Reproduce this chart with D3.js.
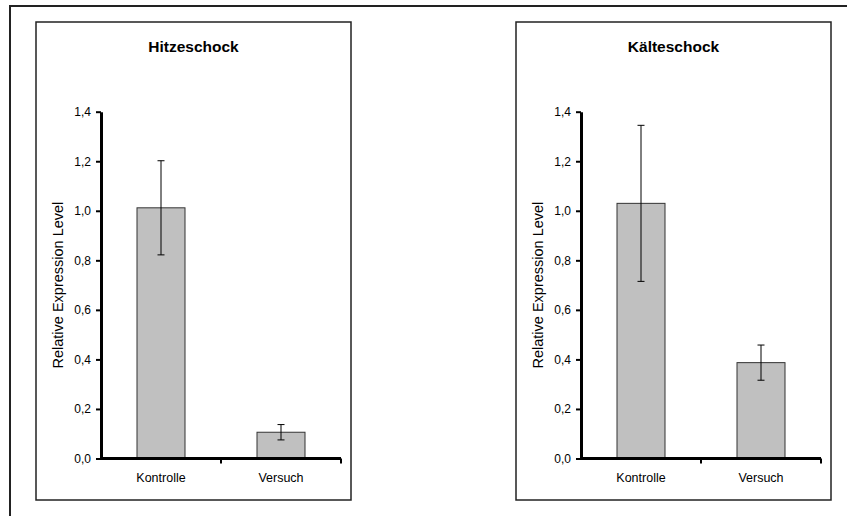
<!DOCTYPE html>
<html lang="de">
<head>
<meta charset="utf-8">
<title>Hitzeschock / Kälteschock</title>
<script src="https://d3js.org/d3.v7.min.js"></script>
<style>
  body { margin: 0; background: #fff; }
  text { font-family: Arial, "Liberation Sans", sans-serif; fill: #000; }
</style>
</head>
<body>
<script>
// data
var categories = ["Kontrolle", "Versuch"];
var titles = ["Hitzeschock", "Kälteschock"];
var heatMeans = [1.012, 0.106];
var heatErrors = [0.19, 0.031];
var coldMeans = [1.03, 0.387];
var coldErrors = [0.315, 0.071];
var yTicks = [0, 0.2, 0.4, 0.6, 0.8, 1.0, 1.2, 1.4];

var panels = [
  { title: titles[0], means: heatMeans, errors: heatErrors, dx: 0 },
  { title: titles[1], means: coldMeans, errors: coldErrors, dx: 480 }
];

var width = 847, height = 516;

var svg = d3.select("body").append("svg")
    .attr("width", width)
    .attr("height", height);

// outer frame (runs off the picture at right and bottom)
svg.append("rect")
    .attr("x", 10).attr("y", 6)
    .attr("width", 900).attr("height", 600)
    .attr("fill", "none")
    .attr("stroke", "#222")
    .attr("stroke-width", 2);

var y = d3.scaleLinear().domain([0, 1.4]).range([458.5, 111.7]);
var x = d3.scaleBand().domain(categories).range([101, 341]).padding(0);
var barWidth = x.bandwidth() * 0.4;
var fmt = function(d) { return d3.format(".1f")(d).replace(".", ","); };

panels.forEach(function(p) {
  var g = svg.append("g").attr("transform", "translate(" + p.dx + ",0)");

  g.append("rect")
      .attr("x", 36).attr("y", 22)
      .attr("width", 315).attr("height", 478)
      .attr("fill", "#fff")
      .attr("stroke", "#222")
      .attr("stroke-width", 1.5);

  g.append("text")
      .attr("x", 193.5).attr("y", 52)
      .attr("text-anchor", "middle")
      .attr("font-size", "15.5px")
      .attr("font-weight", "bold")
      .text(p.title);

  // bars
  g.selectAll(".bar")
      .data(p.means)
      .enter().append("rect")
      .attr("class", "bar")
      .attr("x", function(d, i) { return x(categories[i]) + (x.bandwidth() - barWidth) / 2; })
      .attr("y", function(d) { return y(d); })
      .attr("width", barWidth)
      .attr("height", function(d) { return y(0) - y(d); })
      .attr("fill", "#c0c0c0")
      .attr("stroke", "#333")
      .attr("stroke-width", 1);

  // error bars
  var err = g.selectAll(".err")
      .data(p.means)
      .enter().append("g")
      .attr("class", "err")
      .attr("transform", function(d, i) {
        return "translate(" + (x(categories[i]) + x.bandwidth() / 2) + ",0)";
      });
  err.append("line")
      .attr("x1", 0).attr("x2", 0)
      .attr("y1", function(d, i) { return y(d + p.errors[i]); })
      .attr("y2", function(d, i) { return y(d - p.errors[i]); });
  err.append("line")
      .attr("x1", -3.5).attr("x2", 3.5)
      .attr("y1", function(d, i) { return y(d + p.errors[i]); })
      .attr("y2", function(d, i) { return y(d + p.errors[i]); });
  err.append("line")
      .attr("x1", -3.5).attr("x2", 3.5)
      .attr("y1", function(d, i) { return y(d - p.errors[i]); })
      .attr("y2", function(d, i) { return y(d - p.errors[i]); });
  err.selectAll("line").attr("stroke", "#000").attr("stroke-width", 1);

  // y axis
  var yAxis = g.append("g")
      .attr("transform", "translate(101,0)")
      .call(d3.axisLeft(y).tickValues(yTicks).tickFormat(fmt)
        .tickSize(5).tickSizeOuter(0).tickPadding(5));
  yAxis.select(".domain").attr("stroke", "#000").attr("stroke-width", 3);
  yAxis.selectAll(".tick line").attr("stroke", "#000").attr("stroke-width", 2);
  yAxis.selectAll(".tick text")
      .attr("font-size", "12px")
      .attr("font-family", "Arial, 'Liberation Sans', sans-serif")
      .attr("fill", "#000");

  // x axis, ticks between categories as in the original
  var xAxis = g.append("g");
  xAxis.append("line")
      .attr("x1", 101).attr("x2", 341)
      .attr("y1", y(0)).attr("y2", y(0))
      .attr("stroke", "#000").attr("stroke-width", 3);
  xAxis.selectAll(".xt")
      .data(categories)
      .enter().append("line")
      .attr("class", "xt")
      .attr("x1", function(d) { return x(d) + x.bandwidth(); })
      .attr("x2", function(d) { return x(d) + x.bandwidth(); })
      .attr("y1", y(0)).attr("y2", y(0) + 5)
      .attr("stroke", "#000").attr("stroke-width", 2);
  xAxis.selectAll(".xl")
      .data(categories)
      .enter().append("text")
      .attr("class", "xl")
      .attr("x", function(d) { return x(d) + x.bandwidth() / 2; })
      .attr("y", 482)
      .attr("text-anchor", "middle")
      .attr("font-size", "12.5px")
      .text(function(d) { return d; });

  // y label
  g.append("text")
      .attr("transform", "translate(63," + (y(0) + y(1.4)) / 2 + ") rotate(-90)")
      .attr("text-anchor", "middle")
      .attr("font-size", "14.5px")
      .text("Relative Expression Level");
});
</script>
</body>
</html>
